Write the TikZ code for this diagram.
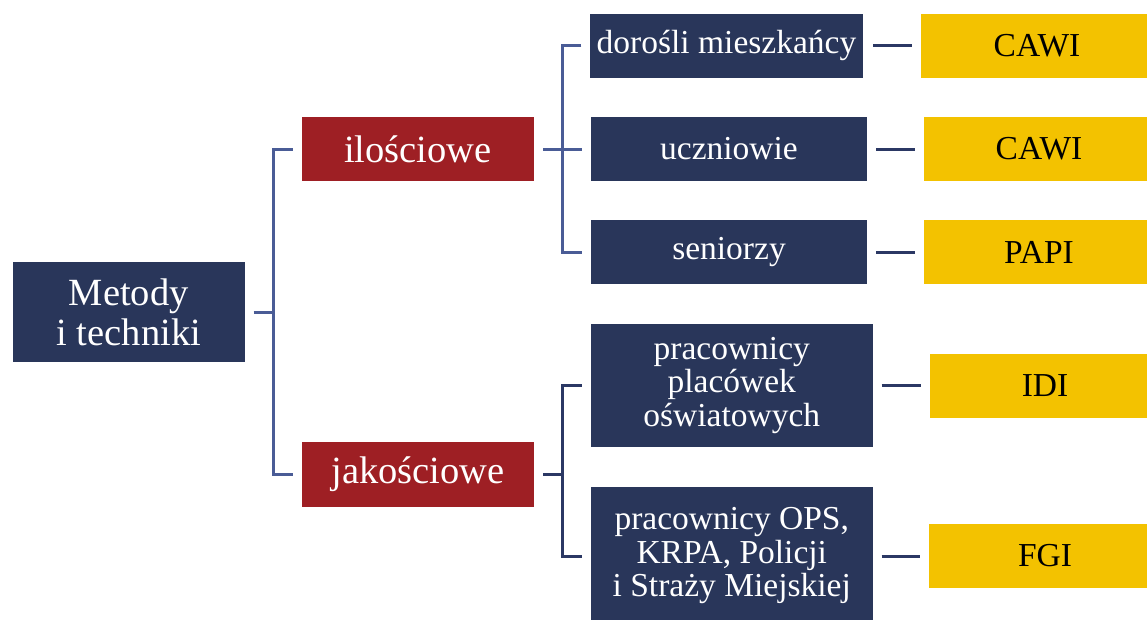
\documentclass[tikz,border=0pt]{standalone}
\usepackage{fontspec}
\setmainfont{Liberation Serif}
\definecolor{navy}{RGB}{41,54,90}
\definecolor{wine}{RGB}{158,31,36}
\definecolor{gold}{RGB}{243,194,0}
\definecolor{lblue}{RGB}{74,92,150}
\definecolor{dblue}{RGB}{43,56,100}
\tikzset{
  box/.style={rectangle, inner sep=0pt, align=center, anchor=center},
  navybox/.style={box, fill=navy, text=white, font=\fontsize{33.5}{33.5}\selectfont},
  redbox/.style={box, fill=wine, text=white, font=\fontsize{38.5}{40}\selectfont},
  goldbox/.style={box, fill=gold, text=black, font=\fontsize{33.5}{33.5}\selectfont},
  lline/.style={draw=lblue, line width=3pt},
  dline/.style={draw=dblue, line width=3pt},
}
\begin{document}
\begin{tikzpicture}[x=1pt,y=-1pt]
\useasboundingbox (0,0) rectangle (1147,619);
\fill[white] (0,0) rectangle (1147,619);
% nodes
\node[redbox, fill=navy, minimum width=231.5pt, minimum height=100pt] (metody) at (128.75,312) {Metody\\i techniki};
\node[redbox, minimum width=232pt, minimum height=64pt] (ilo) at (418,149) {ilościowe};
\node[redbox, minimum width=232pt, minimum height=65pt] (jak) at (418,474.5) {jakościowe};
\node[navybox, minimum width=273pt, minimum height=64pt] (dor) at (726.5,45.5) {dorośli mieszkańcy};
\node[navybox, minimum width=276pt, minimum height=64pt] (ucz) at (729,149) {uczniowie};
\node[navybox, minimum width=276pt, minimum height=64pt] (sen) at (729,252.3) {seniorzy};
\node[navybox, minimum width=281.5pt, minimum height=123pt] (pla) at (731.75,385.5) {pracownicy\\placówek\\oświatowych};
\node[navybox, minimum width=281.5pt, minimum height=138pt] (ops) at (731.75,556) {pracownicy OPS,\\KRPA, Policji\\i Straży Miejskiej};
\node[goldbox, minimum width=232pt, minimum height=64pt] (cawi1) at (1037,45.5) {CAWI};
\node[goldbox, minimum width=230pt, minimum height=64pt] (cawi2) at (1039,149) {CAWI};
\node[goldbox, minimum width=230pt, minimum height=64pt] (papi) at (1039,252.3) {PAPI};
\node[goldbox, minimum width=230pt, minimum height=64pt] (idi) at (1045,385.5) {IDI};
\node[goldbox, minimum width=232pt, minimum height=64pt] (fgi) at (1045,556) {FGI};
% left bracket
\draw[lline] ([xshift=9pt]metody.east) -- ++(19.5pt,0) coordinate (mb);
\draw[lline] ([xshift=-9pt]ilo.west) -| (mb) |- ([xshift=-9pt]jak.west);
% ilosciowe bracket
\draw[lline] ([xshift=9pt]ilo.east) -- ([xshift=-9pt]ucz.west);
\coordinate (ib) at ([xshift=28pt]ilo.east);
\draw[lline] ([xshift=-8.5pt]dor.west) -| (ib) |- ([xshift=-9pt]sen.west);
% jakosciowe bracket
\draw[dline] ([xshift=9pt]jak.east) -- ++(19pt,0) coordinate (jb);
\draw[dline] ([xshift=-9pt]pla.west) -| (jb) |- ([xshift=-9pt]ops.west);
% right connectors
\draw[dline] ([xshift=10pt]dor.east) -- ([xshift=-9pt]cawi1.west);
\draw[dline] ([xshift=9pt]ucz.east) -- ([xshift=-9pt]cawi2.west);
\draw[dline] ([xshift=9pt]sen.east) -- ([xshift=-9pt]papi.west);
\draw[dline] ([xshift=9pt]pla.east) -- ([xshift=-9pt]idi.west);
\draw[dline] ([xshift=9pt]ops.east) -- ([xshift=-9pt]fgi.west);
\end{tikzpicture}
\end{document}
